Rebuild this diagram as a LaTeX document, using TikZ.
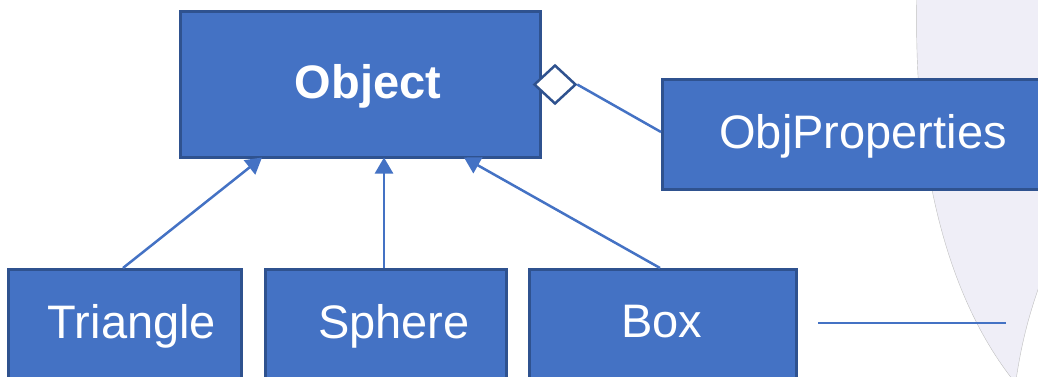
\documentclass[tikz,border=0pt]{standalone}
\usepackage{fontspec}
\setmainfont{Liberation Sans}
\usetikzlibrary{arrows.meta,shapes.geometric}
\definecolor{boxfill}{HTML}{4472C4}
\definecolor{boxedge}{HTML}{2F528F}
\definecolor{linkblue}{HTML}{4472C4}
\definecolor{haze}{HTML}{EFEEF7}
\tikzset{
  classbox/.style={draw=boxedge, fill=boxfill, line width=2.5pt, rectangle,
    inner sep=0pt, anchor=north west},
  classname/.style={text=white, anchor=base, inner sep=0pt,
    font=\fontsize{47}{52}\selectfont},
  inherits/.style={draw=linkblue, line width=2.5pt,
    -{Triangle[length=16pt,width=18pt]}},
  link/.style={draw=linkblue, line width=2.5pt},
  aggmark/.style={diamond, draw=boxedge, fill=white, line width=2.5pt,
    inner sep=0pt, minimum width=42pt, minimum height=39pt}
}
\begin{document}
\begin{tikzpicture}[x=1pt,y=-1pt]
\useasboundingbox (0,0) rectangle (1038,376);
\clip (0,0) rectangle (1038,376);
% soft backdrop shape on the right
\fill[haze, draw=black!25, line width=0.4pt]
  (917,-10) .. controls (912,170) and (950,300) .. (1013,380)
  -- (1016,380) .. controls (1022,340) and (1030,310) .. (1045,270)
  -- (1045,-10) -- cycle;

% classes
\node[classbox, minimum width=360pt, minimum height=146pt] (obj) at (179,10) {};
\node[classbox, minimum width=420pt, minimum height=110pt] (props) at (661,78) {};
\node[classbox, minimum width=233pt, minimum height=150pt] (tri) at (7,268) {};
\node[classbox, minimum width=241pt, minimum height=150pt] (sph) at (264,268) {};
\node[classbox, minimum width=267pt, minimum height=150pt] (bx) at (528,268) {};

\node[classname, font=\fontsize{47}{52}\selectfont\bfseries] (objt) at (368,98) {Object};
\node[classname] (propst) at (863,148) {ObjProperties};
\node[classname] (trit) at (132,338) {Triangle};
\node[classname] (spht) at (394,338) {Sphere};
\node[classname] (bxt) at (662,337) {Box};

% aggregation
\node[aggmark] (agg) at (555,84.5) {};
\draw[link] (agg.east) -- ([yshift=-54pt]props.north west);

% inheritance
\draw[inherits] ([xshift=116pt]tri.north west) -- ([xshift=83pt,yshift=1pt]obj.south west);
\draw[inherits] ([xshift=120pt]sph.north west) -- ([xshift=205pt,yshift=1pt]obj.south west);
\draw[inherits] ([xshift=132pt]bx.north west) -- ([xshift=285pt,yshift=1pt]obj.south west);

% loose rule at the right
\coordinate (ra) at (818,323);
\coordinate (rb) at (1006,323);
\draw[link] (ra) -- (rb);
\end{tikzpicture}
\end{document}
